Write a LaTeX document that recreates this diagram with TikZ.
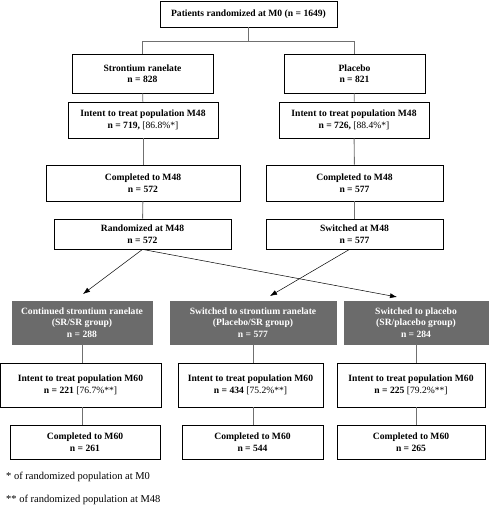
\documentclass[tikz,border=0pt]{standalone}
\usepackage{fontspec}
\setmainfont{Liberation Serif}
\usepackage{xcolor}
\usetikzlibrary{arrows.meta, positioning, calc}
\definecolor{boxgrey}{HTML}{6B6B6B}
\definecolor{linegrey}{HTML}{707070}

\begin{document}
\begin{tikzpicture}[
	% Work in pixel-like units, y growing downwards.
	x=1pt, y=-1pt
	]
	% Define custom styles to make the code cleaner and more reusable.
	\tikzset{
		block/.style={draw, rectangle, inner sep=0pt, align=center, line width=0.8pt, font=\fontsize{9.6}{11.5}\selectfont\bfseries},
		group/.style={block, fill=boxgrey, draw=boxgrey, text=white},
		line/.style={draw=linegrey, line width=0.9pt},
		arrow/.style={-{Latex[length=7pt, width=5pt]}, line width=0.5pt},
		note/.style={anchor=west, inner sep=0pt, font=\fontsize{10.5}{12}\selectfont}
	}
	\useasboundingbox (0,0) rectangle (489,510);
	
	% === NODES ===
	% Randomization and the two arms up to M48.
	
	\node[block, minimum width=177pt, minimum height=26pt] (m0) at (248.5,14) {Patients randomized at M0 (n = 1649)};
	\node[block, minimum width=141pt, minimum height=39pt] (sr) at (142.5,73.5) {Strontium ranelate\\n = 828};
	\node[block, minimum width=141pt, minimum height=39pt] (pl) at (354.5,73.5) {Placebo\\n = 821};
	\node[block, minimum width=150pt, minimum height=36pt] (ittl) at (143,120) {Intent to treat population M48\\n = 719, \textnormal{[86.8\%*]}};
	\node[block, minimum width=150pt, minimum height=36pt] (ittr) at (354,120) {Intent to treat population M48\\n = 726, \textnormal{[88.4\%*]}};
	\node[block, minimum width=194pt, minimum height=36pt] (compl) at (143,183) {Completed to M48\\n = 572};
	\node[block, minimum width=177pt, minimum height=36pt] (compr) at (354.5,183) {Completed to M48\\n = 577};
	\node[block, minimum width=177pt, minimum height=30pt] (rand) at (142.5,234) {Randomized at M48\\n = 572};
	\node[block, minimum width=177pt, minimum height=30pt] (switch) at (354.5,234) {Switched at M48\\n = 577};
	
	% Groups after M48.
	
	\node[group, minimum width=140pt, minimum height=43pt] (srsr) at (82,322.5) {Continued strontium ranelate\\(SR/SR group)\\n = 288};
	\node[group, minimum width=166pt, minimum height=43pt] (plsr) at (253,322.5) {Switched to strontium ranelate\\(Placebo/SR group)\\n = 577};
	\node[group, minimum width=144pt, minimum height=43pt] (srpl) at (416,322.5) {Switched to placebo\\(SR/placebo group)\\n = 284};
	
	\node[block, minimum width=161pt, minimum height=44pt] (itta) at (80.5,385) {Intent to treat population M60\\n = 221 \textnormal{[76.7\%**]}};
	\node[block, minimum width=145pt, minimum height=44pt] (ittb) at (250.5,385) {Intent to treat population M60\\n = 434 \textnormal{[75.2\%**]}};
	\node[block, minimum width=148pt, minimum height=44pt] (ittc) at (411,385) {Intent to treat population M60\\n = 225 \textnormal{[79.2\%**]}};
	
	\node[block, minimum width=150pt, minimum height=34pt] (compa) at (85,442) {Completed to M60\\n = 261};
	\node[block, minimum width=141pt, minimum height=34pt] (compb) at (252.5,442) {Completed to M60\\n = 544};
	\node[block, minimum width=148pt, minimum height=34pt] (compc) at (411,442) {Completed to M60\\n = 265};
	
	% Footnotes.
	\node[note] (fn1) at (6,477) {* of randomized population at M0};
	\node[note] (fn2) at (6,500) {** of randomized population at M48};
	
	% === CONNECTIONS ===
	
	\coordinate (split) at (248.5,41);
	\draw[line] (m0) -- (split);
	\draw[line] (split) -| (sr);
	\draw[line] (split) -| (pl);
	\draw[line] (sr) -- (ittl);
	\draw[line] (ittl) -- (compl);
	\draw[line] (compl) -- (rand);
	\draw[line] (pl) -- (ittr);
	\draw[line] (ittr) -- (compr);
	\draw[line] (compr) -- (switch);
	
	% Arrows into the three groups.
	\coordinate (tosrsr) at (83,294);
	\coordinate (toplsr) at (270,296);
	\coordinate (tosrpl) at (397,297);
	\draw[arrow] (rand.south) -- (tosrsr);
	\draw[arrow] (rand.south) -- (tosrpl);
	\draw[arrow] ([xshift=-5pt]switch.south) -- (toplsr);
	
	% Follow-up to M60.
	\foreach \g/\i/\c in {srsr/itta/compa, plsr/ittb/compb, srpl/ittc/compc}{
		\draw[line] (\g.south) -- (\g.south |- \i.north);
		\draw[line] (\i.south -| \g.south) -- (\c.north -| \g.south);
	}
\end{tikzpicture}
\end{document}
